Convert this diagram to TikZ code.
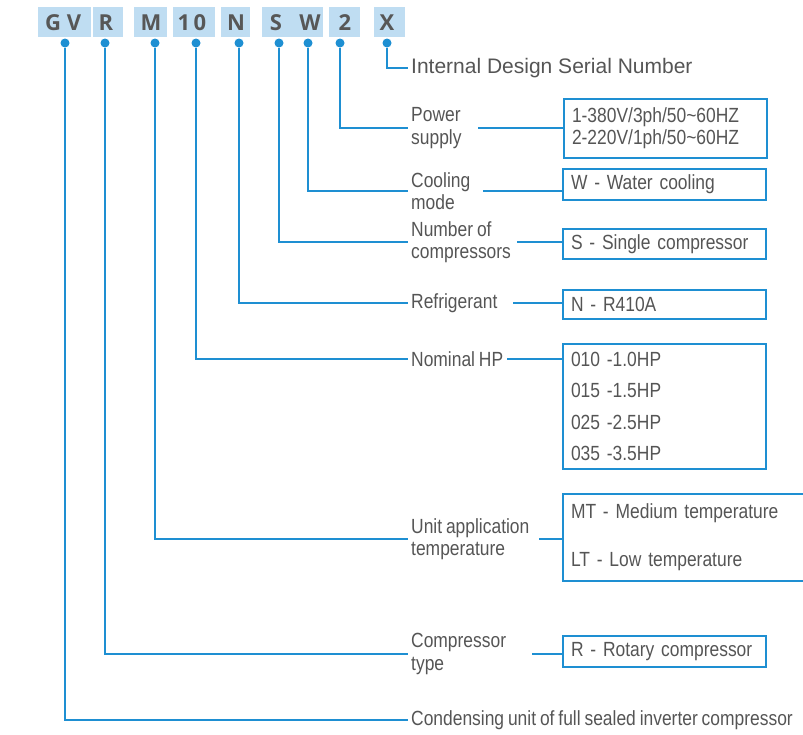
\documentclass[tikz,border=0pt]{standalone}
\usepackage{fontspec}
\setmainfont{Liberation Sans}[FakeStretch=0.85,WordSpace=0.8]
\newfontfamily\widefont{Liberation Sans}
\newfontfamily\headfont{Open Sans}
\definecolor{lblue}{HTML}{1E8FD2}
\definecolor{hblue}{HTML}{BFDDF2}
\definecolor{tgray}{HTML}{555555}
\definecolor{hgray}{HTML}{575757}
\begin{document}
\begin{tikzpicture}[x=1pt,y=-1pt,
  conn/.style={draw=lblue, line width=2pt},
  dotn/.style={circle, fill=lblue, inner sep=0pt, minimum size=9pt},
  hbox/.style={fill=hblue, inner sep=0pt, minimum height=30pt},
  hch/.style={font=\headfont\bfseries\fontsize{22}{22}\selectfont, text=hgray, inner sep=0pt, anchor=base},
  lbl/.style={anchor=west, align=left, inner xsep=3pt, inner ysep=0pt, font=\fontsize{20.5}{22.5}\selectfont, text=tgray},
  vbox/.style={draw=lblue, line width=2pt, anchor=north west, inner xsep=8pt, inner ysep=0pt, align=left,
     text width=187pt, font=\fontsize{20.5}{22}\selectfont, text=tgray}
]
\clip (0,0) rectangle (803,734);
% header boxes
\node[hbox, minimum width=53] (hGV) at (64.5,22) {};
\node[hbox, minimum width=30] (hR) at (108,22) {};
\node[hbox, minimum width=33] (hM) at (150.5,22) {};
\node[hbox, minimum width=42] (h10) at (194,22) {};
\node[hbox, minimum width=29] (hN) at (235.5,22) {};
\node[hbox, minimum width=61] (hSW) at (292.5,22) {};
\node[hbox, minimum width=31] (h2) at (344.5,22) {};
\node[hbox, minimum width=31] (hX) at (389.5,22) {};
% header letters
\node[hch] (cG) at (53,30) {G};
\node[hch] (cV) at (74,30) {V};
\node[hch] (cR) at (106,30) {R};
\node[hch] (cM) at (151,30) {M};
\node[hch] (c1) at (184,30) {1};
\node[hch] (c0) at (200,30) {0};
\node[hch] (cN) at (236,30) {N};
\node[hch] (cS) at (276,30) {S};
\node[hch] (cW) at (310,30) {W};
\node[hch] (c2) at (345,30) {2};
\node[hch] (cX) at (387,30) {X};
% dots
\node[dotn] (dGV) at (65,43) {};
\node[dotn] (dR) at (105,43) {};
\node[dotn] (dM) at (155,43) {};
\node[dotn] (d10) at (196,43) {};
\node[dotn] (dN) at (239,43) {};
\node[dotn] (dS) at (279,43) {};
\node[dotn] (dW) at (308,43) {};
\node[dotn] (d2) at (340,43) {};
\node[dotn] (dX) at (387,43) {};
% labels
\node[lbl, font=\widefont\fontsize{21}{22}\selectfont] (lX) at (408,68) {Internal Design Serial Number};
\node[lbl] (lP) at (408,128) {Power\\supply};
\node[lbl] (lW) at (408,191) {Cooling\\mode};
\node[lbl] (lS) at (408,242) {Number of\\compressors};
\node[lbl] (lN) at (408,303) {Refrigerant};
\node[lbl] (lHP) at (408,359) {Nominal HP};
\node[lbl] (lM) at (408,539) {Unit application\\temperature};
\node[lbl] (lR) at (408,654) {Compressor\\type};
\node[lbl] (lGV) at (408,720) {Condensing unit of full sealed inverter compressor};
% value boxes
\node[vbox, minimum height=59pt] (bP) at (563,98) {1-380V/3ph/50\textasciitilde 60HZ\\2-220V/1ph/50\textasciitilde 60HZ};
\node[vbox, minimum height=31pt] (bW) at (562,168) {W - Water cooling};
\node[vbox, minimum height=30pt] (bS) at (562,228) {S - Single compressor};
\node[vbox, minimum height=29pt] (bN) at (562,289) {N - R410A};
\node[vbox, minimum height=125pt, font=\fontsize{20.5}{31.3}\selectfont] (bHP) at (562,343) {010 -1.0HP\\015 -1.5HP\\025 -2.5HP\\035 -3.5HP};
\node[vbox, minimum height=87pt, text width=240pt, font=\fontsize{20.5}{48}\selectfont] (bM) at (562,493) {MT - Medium temperature\\LT - Low temperature};
\node[vbox, minimum height=31pt] (bR) at (562,635) {R - Rotary compressor};
% connectors: code to label
\draw[conn] (dX) |- (lX.west);
\draw[conn] (d2) |- (lP.west);
\draw[conn] (dW) |- (lW.west);
\draw[conn] (dS) |- (lS.west);
\draw[conn] (dN) |- (lN.west);
\draw[conn] (d10) |- (lHP.west);
\draw[conn] (dM) |- (lM.west);
\draw[conn] (dR) |- (lR.west);
\draw[conn] (dGV) |- (lGV.west);
% connectors: label to box
\draw[conn] (bP.west |- lP.west) -- ++(-85,0);
\draw[conn] (bW.west |- lW.west) -- ++(-79,0);
\draw[conn] (bS.west |- lS.west) -- ++(-45,0);
\draw[conn] (bN.west |- lN.west) -- ++(-49,0);
\draw[conn] (bHP.west |- lHP.west) -- ++(-55,0);
\draw[conn] (bM.west |- lM.west) -- ++(-23,0);
\draw[conn] (bR.west |- lR.west) -- ++(-30,0);
\end{tikzpicture}
\end{document}
